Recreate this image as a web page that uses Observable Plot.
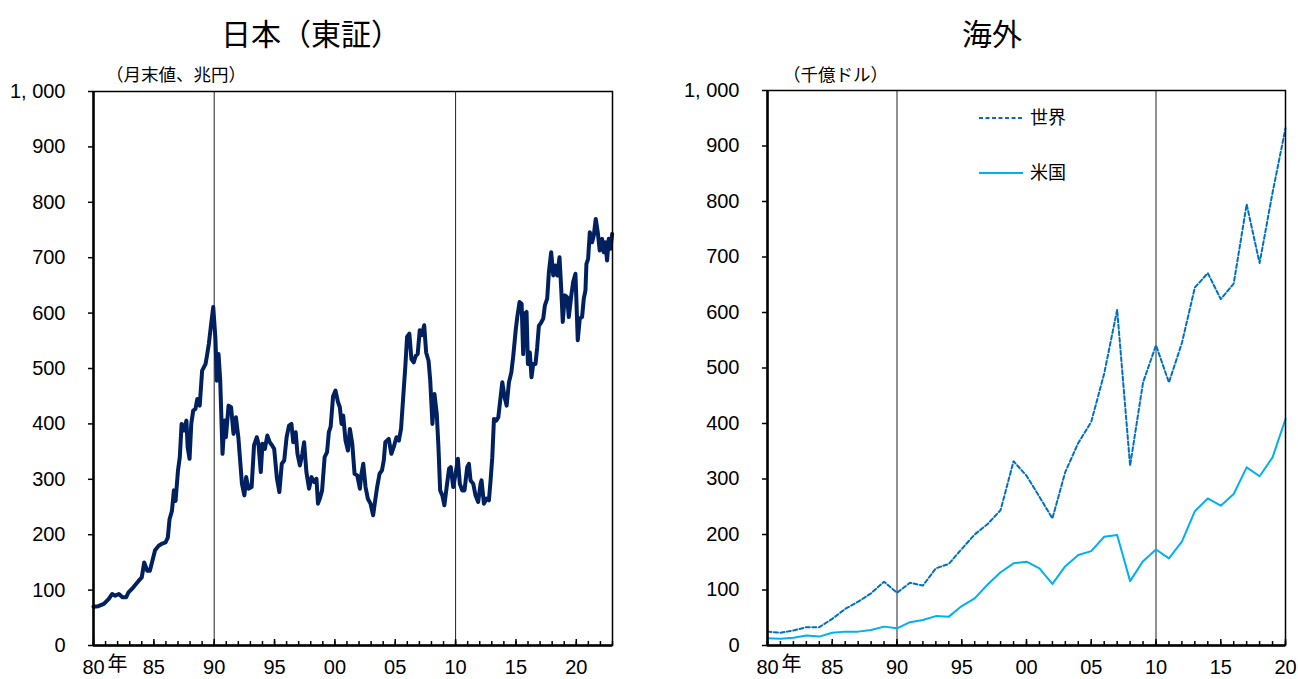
<!DOCTYPE html>
<html>
<head>
<meta charset="utf-8">
<script src="https://cdn.jsdelivr.net/npm/d3@7"></script>
<script src="https://cdn.jsdelivr.net/npm/@observablehq/plot@0.6"></script>
<style>
  html, body { margin: 0; padding: 0; background: #fff; }
  #wrap { position: relative; width: 1298px; height: 679px; overflow: hidden; background: #fff;
          font-family: "Liberation Sans", Arial, "Noto Sans CJK JP", sans-serif; color: #000; }
  .panel { position: absolute; top: 0; }
  .title { position: absolute; top: 17px; font-family: "Noto Sans CJK JP", sans-serif; font-size: 30px;
           line-height: 1; white-space: nowrap; transform: translateX(-50%); }
  .sub { position: absolute; top: 65px; font-family: "Noto Sans CJK JP", sans-serif; font-size: 17.5px;
         line-height: 1; white-space: nowrap; }
  #legend { position: absolute; left: 975px; top: 100px; }
</style>
</head>
<body>
<div id="wrap">
  <div class="panel" id="left"></div>
  <div class="panel" id="right" style="left:649px"></div>
  <div class="title" style="left:311px">日本（東証）</div>
  <div class="title" style="left:992px">海外</div>
  <div class="sub" style="left:106px">（月末値、兆円）</div>
  <div class="sub" style="left:783px">（千億ドル）</div>
  <svg id="legend" width="120" height="95"></svg>
</div>
<script>
// ---------- Data ----------
// Japan (TSE) market capitalisation, month-end values, trillion yen
const tseTime = [
  1980.0,1980.4,1980.86,1981.27,1981.55,1981.8,1982.1,1982.4,1982.7,1982.9,
  1983.3,1983.75,1984.0,1984.2,1984.45,1984.67,1985.1,1985.4,1985.7,1985.97,
  1986.16,1986.3,1986.5,1986.66,1986.8,1987.0,1987.15,1987.3,1987.5,1987.7,
  1987.8,1987.96,1988.1,1988.26,1988.45,1988.6,1988.8,1989.0,1989.28,1989.4,
  1989.56,1989.75,1989.92,1990.1,1990.22,1990.36,1990.5,1990.69,1990.86,1990.97,
  1991.19,1991.4,1991.6,1991.8,1992.0,1992.3,1992.5,1992.65,1992.84,1993.1,
  1993.3,1993.53,1993.67,1993.86,1994.0,1994.2,1994.4,1994.6,1994.8,1994.97,
  1995.2,1995.4,1995.6,1995.8,1996.0,1996.2,1996.4,1996.55,1996.75,1996.9,
  1997.1,1997.3,1997.45,1997.64,1997.86,1998.06,1998.28,1998.47,1998.6,1998.75,
  1998.94,1999.15,1999.35,1999.5,1999.65,1999.85,2000.05,2000.25,2000.41,2000.55,
  2000.69,2000.88,2001.08,2001.24,2001.44,2001.63,2001.85,2002.07,2002.18,2002.35,
  2002.54,2002.73,2002.95,2003.17,2003.3,2003.5,2003.7,2003.9,2004.05,2004.18,
  2004.46,2004.68,2004.87,2005.1,2005.3,2005.48,2005.64,2005.84,2005.98,2006.17,
  2006.34,2006.53,2006.7,2006.86,2007.03,2007.2,2007.4,2007.56,2007.76,2007.9,
  2008.08,2008.25,2008.44,2008.58,2008.72,2008.9,2009.07,2009.26,2009.46,2009.6,
  2009.8,2010.0,2010.19,2010.35,2010.55,2010.74,2010.96,2011.1,2011.24,2011.46,
  2011.65,2011.87,2012.07,2012.15,2012.35,2012.57,2012.76,2012.9,2013.04,2013.18,
  2013.37,2013.54,2013.68,2013.87,2014.06,2014.23,2014.42,2014.62,2014.78,2014.98,
  2015.11,2015.3,2015.47,2015.6,2015.72,2015.88,2015.99,2016.15,2016.29,2016.43,
  2016.62,2016.76,2016.9,2017.09,2017.26,2017.4,2017.59,2017.73,2017.92,2018.09,
  2018.25,2018.42,2018.61,2018.75,2018.88,2019.05,2019.24,2019.38,2019.57,2019.74,
  2019.93,2020.01,2020.12,2020.29,2020.48,2020.62,2020.76,2020.84,2020.98,2021.12,
  2021.31,2021.45,2021.61,2021.78,2021.94,2022.14,2022.27,2022.41,2022.55,2022.69,
  2022.83,2022.97
];
const tseValue = [
  70,71,75,84,93,90,93,87,87,96,
  105,117,123,150,135,135,172,180,184,186,
  195,228,243,280,261,316,340,400,388,406,
  358,337,400,424,427,445,433,496,508,523,
  545,581,611,555,478,526,478,346,406,376,
  433,430,382,412,376,292,271,304,283,286,
  361,376,364,313,364,355,379,367,361,355,
  301,277,328,334,376,397,400,367,385,346,
  325,346,367,313,283,304,295,301,256,265,
  280,340,349,385,395,450,460,440,430,400,
  415,370,352,391,364,310,307,283,307,328,
  286,265,256,235,256,286,310,316,334,367,
  373,346,358,376,370,391,442,505,557,563,
  517,511,523,526,569,560,578,529,514,478,
  400,454,418,358,280,271,253,286,319,322,
  286,310,337,292,280,280,322,328,298,292,
  271,259,292,298,256,265,262,298,340,409,
  406,412,439,475,448,433,475,493,523,569,
  593,620,617,526,599,602,508,529,484,508,
  508,538,577,583,590,614,626,674,710,668,
  686,668,701,644,584,632,629,593,629,656,
  671,623,551,590,593,626,641,689,698,746,
  728,740,770,746,713,734,710,728,695,734,
  716,743
];

// Overseas: annual values, 100 billion US dollars
const overseasYears = d3.range(1980, 2021);
const worldValue = [
  25,23,27,33,33,48,66,79,94,115,
  95,113,108,139,147,174,200,219,244,332,
  306,268,229,313,365,403,490,605,324,474,
  541,474,545,645,671,624,652,795,689,816,
  932
];
const usValue = [
  13,12,14,18,16,23,25,25,28,34,
  31,42,46,53,52,71,85,110,132,148,
  151,139,111,143,163,170,196,199,116,152,
  173,157,187,242,265,252,273,321,305,339,
  408
];

// Axis ticks and reference years
const yTicks = d3.range(0, 1001, 100);
const majorYears = d3.range(1980, 2021, 5);
const dividerYears = [1990, 2010];
const legendLabels = ["世界", "米国"];

// ---------- Rendering ----------
const FONT = '"Liberation Sans", Arial, "Noto Sans CJK JP", sans-serif';
const fmtY = d => d === 1000 ? "1, 000" : String(d);
const fmtX = d => String(d % 100).padStart(2, "0");

function panel({xMax, marginLeft, marginRight, marginTop, lines}) {
  const allYears = d3.range(1980, xMax + 1);
  return Plot.plot({
    width: 649, height: 679,
    marginTop, marginBottom: 34, marginLeft, marginRight,
    x: {domain: [1980, xMax]},
    y: {domain: [0, 1000]},
    style: {fontFamily: FONT, fontSize: "20px", color: "#000", background: "transparent", overflow: "visible"},
    marks: [
      Plot.ruleX(dividerYears, {stroke: "#222", strokeWidth: 1}),
      ...lines,
      Plot.frame({stroke: "#000", strokeWidth: 1.5}),
      Plot.ruleX([1980], {stroke: "#000", strokeWidth: 2.5}),
      Plot.ruleY([0], {stroke: "#000", strokeWidth: 2.5}),
      Plot.axisY({ticks: yTicks, tickSize: 5, tickPadding: 23, tickFormat: fmtY, label: null, strokeWidth: 1.5, fontSize: 20}),
      Plot.axisX({ticks: allYears, tickSize: -4, tickFormat: () => "", label: null, strokeWidth: 1.5}),
      Plot.axisX({ticks: majorYears, tickSize: -6, tickFormat: () => "", label: null, strokeWidth: 1.5}),
      Plot.axisX({ticks: majorYears, tickSize: 0, tickPadding: 14, tickFormat: fmtX, label: null, fontSize: 20}),
      Plot.text(["年"], {x: () => 1980, frameAnchor: "bottom", dx: 24, dy: 25, fontSize: 20,
                         fontFamily: '"Noto Sans CJK JP", sans-serif', fill: "#000"})
    ]
  });
}

const tse = tseTime.map((t, i) => ({t, v: tseValue[i]}));
const overseas = overseasYears.map((year, i) => ({year, world: worldValue[i], us: usValue[i]}));

document.getElementById("left").append(panel({
  xMax: 2023, marginLeft: 93, marginRight: 37, marginTop: 91,
  lines: [Plot.line(tse, {x: "t", y: "v", stroke: "#002060", strokeWidth: 4, strokeLinejoin: "round", strokeLinecap: "round"})]
}));

document.getElementById("right").append(panel({
  xMax: 2020, marginLeft: 118, marginRight: 13, marginTop: 90,
  lines: [
    Plot.line(overseas, {x: "year", y: "us", stroke: "#00B0F0", strokeWidth: 2}),
    Plot.line(overseas, {x: "year", y: "world", stroke: "#0070C0", strokeWidth: 2, strokeDasharray: "4,2.5"})
  ]
}));

// Legend
const lg = d3.select("#legend");
const items = [
  {label: legendLabels[0], color: "#0070C0", dash: "4,2.5", y: 18},
  {label: legendLabels[1], color: "#00B0F0", dash: null, y: 73}
];
for (const it of items) {
  lg.append("line").attr("x1", 4).attr("x2", 48).attr("y1", it.y).attr("y2", it.y)
    .attr("stroke", it.color).attr("stroke-width", 2).attr("stroke-dasharray", it.dash);
  lg.append("text").attr("x", 55).attr("y", it.y).attr("dy", "0.36em")
    .attr("font-family", '"Noto Sans CJK JP", sans-serif').attr("font-size", 18).text(it.label);
}
</script>
</body>
</html>
